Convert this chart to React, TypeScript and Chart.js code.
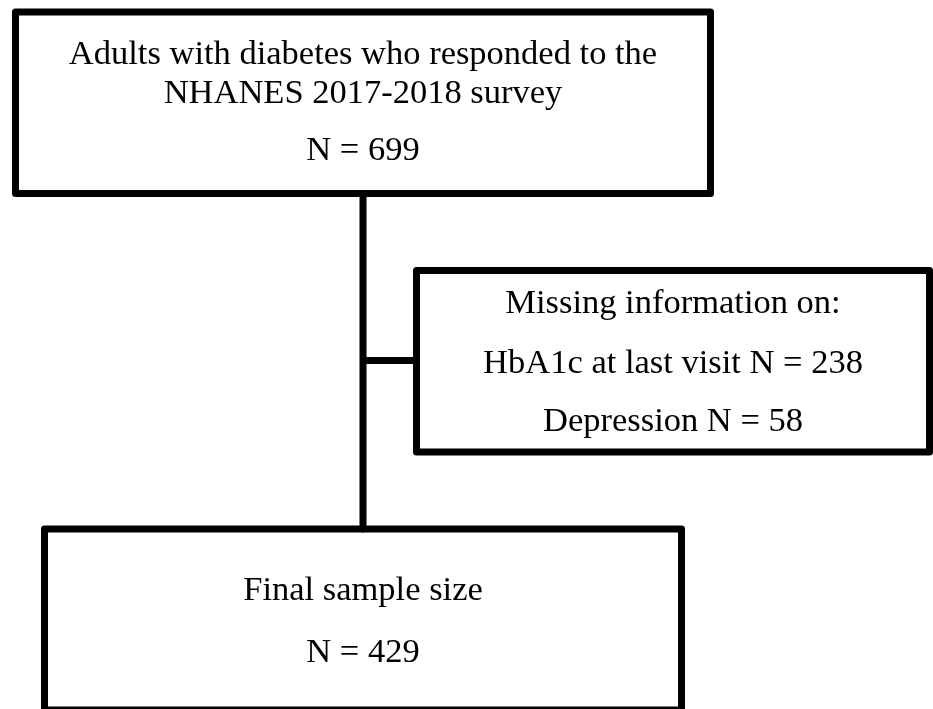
import React, { useEffect, useRef } from "react";
import { Chart, registerables } from "chart.js";

Chart.register(...registerables);

// Flowchart content
const boxTexts: string[][] = [
  ["Adults with diabetes who responded to the", "NHANES 2017-2018 survey", "N = 699"],
  ["Missing information on:", "HbA1c at last visit N = 238", "Depression N = 58"],
  ["Final sample size", "N = 429"],
];
// Box extents in chart units
const boxX: number[][] = [[15.5, 710.5], [416.5, 929.5], [44.5, 681.5]];
const boxY: number[][] = [[12, 193.5], [270.5, 452], [529, 710]];
// Text baselines per box line, chart units
const lineBaselines: number[][] = [[63.5, 102.8, 159.5], [313, 373, 431], [599.5, 662]];
// Connector segments
const connectorsX: number[][] = [[363, 363], [363, 416.5]];
const connectorsY: number[][] = [[193.5, 529], [360.5, 360.5]];

const W = 933;
const H = 709;

export default function App() {
  const ref = useRef<HTMLCanvasElement | null>(null);

  useEffect(() => {
    if (!ref.current) return;
    const lineStyle = {
      showLine: true,
      borderColor: "#000",
      backgroundColor: "#000",
      borderWidth: 7,
      pointRadius: 0,
      pointHoverRadius: 0,
      fill: false,
      tension: 0,
      clip: false as any,
      borderJoinStyle: "round" as const,
      borderCapStyle: "round" as const,
    };
    const datasets: any[] = [];
    boxX.forEach((bx, i) => {
      const by = boxY[i];
      datasets.push({
        ...lineStyle,
        data: [
          { x: bx[0], y: by[0] },
          { x: bx[1], y: by[0] },
          { x: bx[1], y: by[1] },
          { x: bx[0], y: by[1] },
          { x: bx[0], y: by[0] },
        ],
      });
    });
    connectorsX.forEach((cx, i) => {
      const cy = connectorsY[i];
      datasets.push({
        ...lineStyle,
        borderCapStyle: "butt",
        data: [
          { x: cx[0], y: cy[0] },
          { x: cx[1], y: cy[1] },
        ],
      });
    });

    const textPlugin = {
      id: "boxText",
      afterDatasetsDraw(chart: any) {
        const ctx = chart.ctx;
        const xs = chart.scales.x;
        const ys = chart.scales.y;
        ctx.save();
        ctx.fillStyle = "#000";
        ctx.font = '34.5px "Liberation Serif", "Times New Roman", serif';
        ctx.textAlign = "center";
        ctx.textBaseline = "alphabetic";
        boxTexts.forEach((lines, i) => {
          const cx = xs.getPixelForValue((boxX[i][0] + boxX[i][1]) / 2);
          lines.forEach((t, j) => {
            ctx.fillText(t, cx, ys.getPixelForValue(lineBaselines[i][j]));
          });
        });
        ctx.restore();
      },
    };

    const chart = new Chart(ref.current, {
      type: "scatter",
      data: { datasets },
      options: {
        animation: false,
        responsive: false,
        maintainAspectRatio: false,
        layout: { padding: 0 },
        events: [],
        scales: {
          x: { type: "linear", min: 0, max: W, display: false },
          y: { type: "linear", min: 0, max: H, reverse: true, display: false },
        },
        plugins: {
          legend: { display: false },
          tooltip: { enabled: false },
          title: { display: false },
        },
      },
      plugins: [textPlugin],
    });
    return () => chart.destroy();
  }, []);

  return (
    <div
      style={{
        position: "absolute",
        left: 0,
        top: 0,
        width: W,
        height: H,
        background: "#fff",
        overflow: "hidden",
      }}
    >
      <canvas ref={ref} width={W} height={H} style={{ display: "block", width: W, height: H }} />
    </div>
  );
}
